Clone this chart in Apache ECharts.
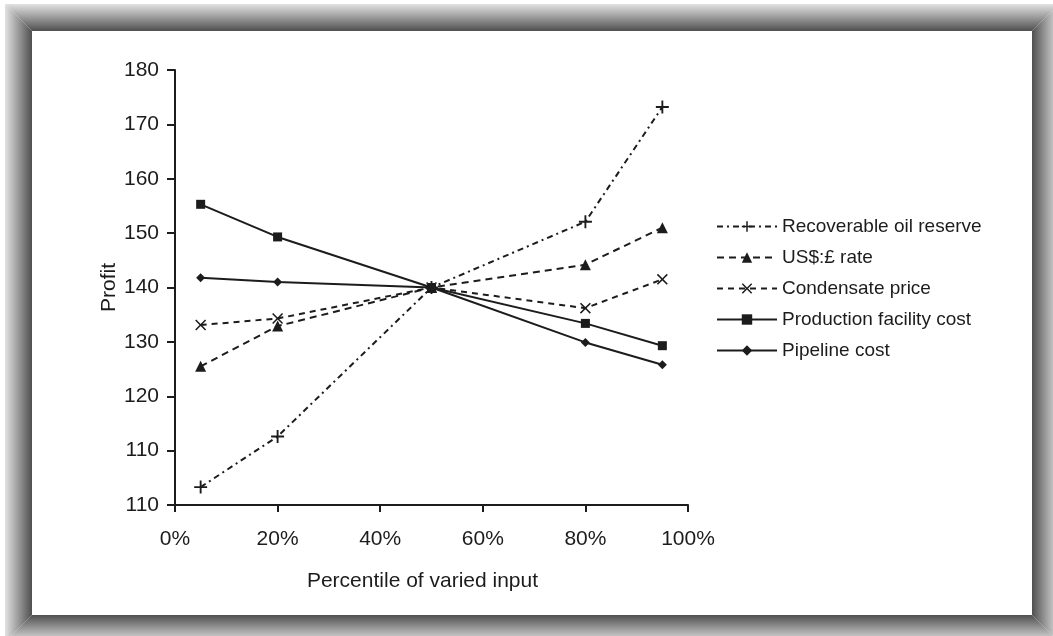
<!DOCTYPE html>
<html>
<head>
<meta charset="utf-8">
<script src="https://cdn.jsdelivr.net/npm/echarts@6/dist/echarts.min.js"></script>
<style>
  html, body { margin: 0; padding: 0; background: #ffffff; }
  #chart { width: 1053px; height: 636px; }
</style>
</head>
<body>
<div id="chart"></div>
<script>
// Percentile of the varied input at which profit was evaluated
const percentiles = [5, 20, 50, 80, 95];

// Profit for each varied input
const recoverableOilReserve = [103.3, 112.6, 140, 152.1, 173.2];
const usdGbpRate = [125.5, 132.9, 140, 144.2, 151.0];
const condensatePrice = [133.1, 134.3, 140, 136.2, 141.5];
const productionFacilityCost = [155.3, 149.3, 140, 133.4, 129.3];
const pipelineCost = [141.8, 141.0, 140, 129.9, 125.8];

const seriesNames = [
  'Recoverable oil reserve',
  'US$:£ rate',
  'Condensate price',
  'Production facility cost',
  'Pipeline cost'
];

// Axis tick labels as printed
const xTickLabels = ['0%', '20%', '40%', '60%', '80%', '100%'];
const yTickLabels = ['110', '110', '120', '130', '140', '150', '160', '170', '180'];

const INK = '#1c1c1c';
const FONT = '"Liberation Sans", Arial, Helvetica, sans-serif';

function pairs(values) {
  return percentiles.map((p, i) => [p, values[i]]);
}

// Marker shapes
const PLUS = 'path://M6,0H8V6H14V8H8V14H6V8H0V6H6Z';
const CROSS = 'path://M0,1L1,0L5,4L9,0L10,1L6,5L10,9L9,10L5,6L1,10L0,9L4,5Z';

function lineSeries(name, values, dash, symbol, size) {
  return {
    name: name,
    type: 'line',
    data: pairs(values),
    symbol: symbol,
    symbolSize: size,
    showAllSymbol: true,
    animation: false,
    lineStyle: { color: INK, width: 2, type: dash },
    itemStyle: { color: INK, borderWidth: 0 },
    emphasis: { disabled: true },
    z: 3
  };
}

// Bevelled grey picture frame around the plot
const OUT = { l: 5, t: 4, r: 1059, b: 642 };
const IN = { l: 32, t: 31, r: 1032, b: 615 };
const LIGHT = '#e2e2e2';
const MID = '#9a9a9a';
const DARK = '#4f4f4f';
function grad(x, y, x2, y2) {
  return {
    type: 'linear', x: x, y: y, x2: x2, y2: y2,
    colorStops: [
      { offset: 0, color: LIGHT },
      { offset: 0.5, color: MID },
      { offset: 1, color: DARK }
    ]
  };
}
const frame = [
  { type: 'polygon', shape: { points: [[OUT.l, OUT.t], [OUT.r, OUT.t], [IN.r, IN.t], [IN.l, IN.t]] },
    style: { fill: grad(0, 0, 0, 1) }, silent: true },
  { type: 'polygon', shape: { points: [[IN.l, IN.b], [IN.r, IN.b], [OUT.r, OUT.b], [OUT.l, OUT.b]] },
    style: { fill: grad(0, 1, 0, 0) }, silent: true },
  { type: 'polygon', shape: { points: [[OUT.l, OUT.t], [IN.l, IN.t], [IN.l, IN.b], [OUT.l, OUT.b]] },
    style: { fill: grad(0, 0, 1, 0) }, silent: true },
  { type: 'polygon', shape: { points: [[IN.r, IN.t], [OUT.r, OUT.t], [OUT.r, OUT.b], [IN.r, IN.b]] },
    style: { fill: grad(1, 0, 0, 0) }, silent: true }
];

const chart = echarts.init(document.getElementById('chart'), null, { renderer: 'canvas' });

chart.setOption({
  animation: false,
  backgroundColor: '#ffffff',
  textStyle: { fontFamily: FONT, color: INK },
  graphic: frame,
  grid: { left: 175, right: 365, top: 70, bottom: 131, containLabel: false },
  xAxis: {
    type: 'value',
    min: 0,
    max: 100,
    interval: 20,
    name: 'Percentile of varied input',
    nameLocation: 'middle',
    nameGap: 66,
    nameTextStyle: { fontSize: 21, color: INK, fontFamily: FONT, padding: [0, 18, 0, 0] },
    axisLine: { show: true, lineStyle: { color: INK, width: 2 } },
    axisTick: { show: true, length: 7, inside: false, lineStyle: { color: INK, width: 2 } },
    axisLabel: {
      fontSize: 21, color: INK, fontFamily: FONT, margin: 24,
      formatter: v => xTickLabels[Math.round(v / 20)]
    },
    splitLine: { show: false }
  },
  yAxis: {
    type: 'value',
    min: 100,
    max: 180,
    interval: 10,
    name: 'Profit',
    nameLocation: 'middle',
    nameGap: 54,
    nameRotate: 90,
    nameTextStyle: { fontSize: 21, color: INK, fontFamily: FONT },
    axisLine: { show: true, lineStyle: { color: INK, width: 2 } },
    axisTick: { show: true, length: 8, inside: false, lineStyle: { color: INK, width: 2 } },
    axisLabel: {
      fontSize: 21, color: INK, fontFamily: FONT, margin: 16,
      formatter: v => yTickLabels[Math.round((v - 100) / 10)]
    },
    splitLine: { show: false }
  },
  legend: {
    orient: 'vertical',
    left: 711,
    top: 211,
    itemWidth: 60,
    itemHeight: 13,
    itemGap: 10,
    textStyle: { fontSize: 19, color: INK, fontFamily: FONT, lineHeight: 21 },
    data: seriesNames,
    selectedMode: false
  },
  series: [
    lineSeries(seriesNames[0], recoverableOilReserve, [6, 4, 2, 4], PLUS, 13),
    lineSeries(seriesNames[1], usdGbpRate, [7, 5], 'triangle', 11),
    lineSeries(seriesNames[2], condensatePrice, [6, 5], CROSS, 11),
    lineSeries(seriesNames[3], productionFacilityCost, 'solid', 'rect', 9),
    lineSeries(seriesNames[4], pipelineCost, 'solid', 'diamond', 9)
  ]
});
</script>
</body>
</html>
